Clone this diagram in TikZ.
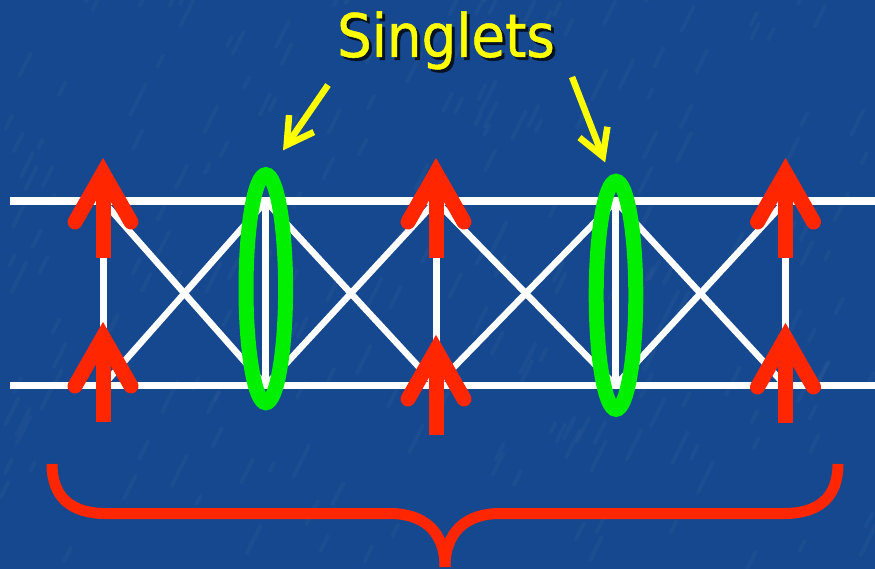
\documentclass[tikz,border=0pt]{standalone}
\usepackage{fontspec}
\newfontfamily\titlefont[FakeStretch=0.91,FakeBold=0.8]{DejaVu Sans}
\usetikzlibrary{calc,shapes.geometric}
\definecolor{bgblue}{RGB}{21,72,142}
\definecolor{spinred}{RGB}{255,38,0}
\definecolor{singgreen}{RGB}{0,240,0}
\definecolor{labyellow}{RGB}{255,255,0}
\tikzset{
  rail/.style={white, line width=7.5pt},
  rung/.style={white, line width=7pt},
  diag/.style={white, line width=6.5pt},
  spinshaft/.style={spinred, line width=15pt},
  spinhead/.style={spinred, line width=15pt, line cap=round, line join=miter},
  singlet/.style={draw=singgreen, line width=15pt, ellipse, inner sep=0pt,
                  minimum width=39.6pt, minimum height=228pt},
  pointer/.style={labyellow, line width=6.5pt, line join=miter},
  bracestroke/.style={spinred, line width=11pt},
  titletext/.style={font=\titlefont\fontsize{60}{72}\selectfont, anchor=base, inner sep=0pt}
}
\newcommand\spinarrow[3]{%
  \coordinate (#1) at (#2,#3);
  \draw[spinshaft] (#2,#3+100) -- (#2,#3+15);
  \draw[spinhead] (#2-28,#3+64) -- (#2,#3+15) -- (#2+28,#3+64);
}
\begin{document}
\begin{tikzpicture}[x=1pt,y=-1pt]
\fill[bgblue] (0,0) rectangle (875,569);
\useasboundingbox (0,0) rectangle (875,569);

% subtle background texture
\pgfmathsetseed{11}
\foreach \i in {1,...,220}{
  \pgfmathsetmacro{\xa}{rnd*875}
  \pgfmathsetmacro{\ya}{rnd*569}
  \pgfmathsetmacro{\len}{8+rnd*26}
  \draw[white, opacity=0.03, line width=4pt, line cap=round] (\xa,\ya) -- ++(\len*0.45,-\len*0.9);
}

% ladder
\coordinate (TL) at (10,201.2);  \coordinate (TR) at (875,201.2);
\coordinate (BL) at (10,385.5);  \coordinate (BR) at (875,385.5);
\foreach \n/\x in {1/103,2/265.8,3/436,4/615.5,5/785.5}{
  \coordinate (t\n) at (\x,201.2);
  \coordinate (b\n) at (\x,385.5);
}
\draw[rail] (TL) -- (TR);
\draw[rail] (BL) -- (BR);
\foreach \n in {1,...,5} \draw[rung] (t\n) -- (b\n);
\foreach \a/\b in {1/2,2/3,3/4,4/5}{
  \draw[diag] (t\a) -- (b\b);
  \draw[diag] (b\a) -- (t\b);
}

% singlet ellipses
\node[singlet] (s1) at (265.8,288.7) {};
\node[singlet] (s2) at (616,295.3) {};

% spins
\spinarrow{u1}{103}{158}
\spinarrow{d1}{103}{322}
\spinarrow{u3}{436}{158}
\spinarrow{d3}{436}{335}
\spinarrow{u5}{785.5}{158}
\spinarrow{d5}{785.5}{323}

% title with shadow (one node)
\node[titletext, text=labyellow] (title) at (446,57)
  {\rlap{\hspace{3pt}\raisebox{-3pt}{\color{black!75!bgblue}Singlets}}Singlets};

% yellow pointers
\coordinate (p1s) at (328,85);  \coordinate (p1t) at (286.7,145);
\coordinate (p2s) at (572,77);  \coordinate (p2t) at (602.8,156.4);
\draw[pointer] (p1s) -- (p1t);
\draw[pointer] ($(p1t)!30pt!30:(p1s)$) -- (p1t) -- ($(p1t)!30pt!-30:(p1s)$);
\draw[pointer] (p2s) -- (p2t);
\draw[pointer] ($(p2t)!30pt!30:(p2s)$) -- (p2t) -- ($(p2t)!30pt!-30:(p2s)$);

% brace
\coordinate (brL) at (52,464);
\coordinate (brR) at (838,464);
\coordinate (brTip) at (445,567);
\draw[bracestroke] (brL) .. controls (52,498) and (72,513.5) .. (106,513.5) -- (390,513.5)
   .. controls (424,513.5) and (445,532) .. (brTip);
\draw[bracestroke] (brR) .. controls (838,498) and (818,513.5) .. (784,513.5) -- (500,513.5)
   .. controls (466,513.5) and (445,532) .. (brTip);
\end{tikzpicture}
\end{document}
